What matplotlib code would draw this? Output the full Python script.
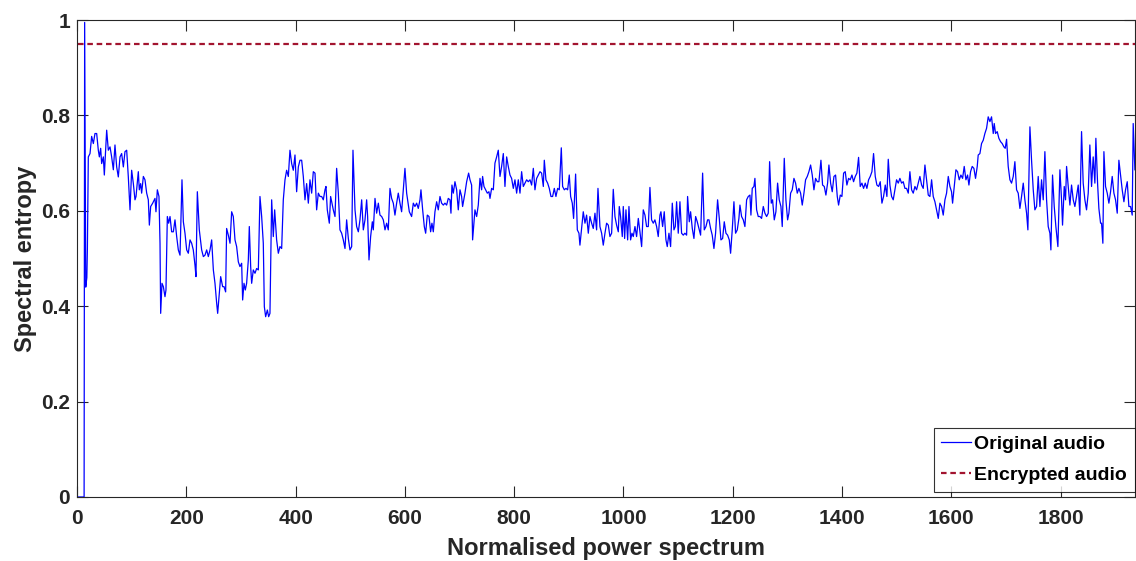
import matplotlib
matplotlib.use("Agg")
import matplotlib.pyplot as plt

# ---- data ----
orig_x = [1, 12, 13, 14, 16, 18, 19, 20.7, 23.8, 26.8, 29.9, 32.9, 36.0, 39.0, 40.9, 43.3, 45.1, 48.2, 50.0,
          54.3, 57.3, 60.4, 63.4, 66.5, 69.5, 72.6, 75.6, 78.7, 81.7, 84.8, 87.8, 90.9, 93.9,
          97.0, 100.0, 103.1, 106.1, 108.0, 112.2, 114.0, 116.5, 118.3, 121.4, 124.4, 127.5, 130.5, 132.4,
          134.8, 138.5, 142.7, 144.5, 147.0, 150.0, 151.9, 153.1, 155.5, 158.0, 161.0, 162.8, 165.3, 167.7,
          170.2, 173.2, 176.3, 179.3, 182.4, 185.4, 188.5, 192.1, 194.6, 197.6, 200.7, 203.7, 206.8, 209.8,
          212.8, 215.9, 217.7, 220.2, 223.8, 228.1, 231.2, 234.2, 237.3, 240.3, 243.4, 246.4, 249.5, 252.5,
          255.6, 257.4, 260.4, 262.9, 266.5, 269.0, 272.0, 273.8, 276.9, 280.0, 283.0, 286.0, 289.1, 292.1,
          295.2, 298.2, 301.3, 303.1, 305.6, 308.0, 310.4, 313.5, 315.3, 317.8, 319.6, 322.6, 325.7, 328.7,
          331.8, 334.8, 337.9, 340.9, 342.8, 345.2, 348.3, 350.7, 353.1, 356.2, 359.2, 361.7, 365.3, 368.4,
          371.4, 374.5, 377.5, 380.6, 383.6, 386.7, 389.7, 392.8, 395.8, 398.9, 401.9, 405.0, 408.0, 411.1,
          414.1, 417.2, 420.2, 423.3, 426.3, 429.4, 432.4, 435.5, 438.5, 441.6, 444.6, 447.7, 450.7, 453.8,
          455.6, 458.0, 461.7, 464.1, 469.0, 472.1, 475.1, 478.2, 481.2, 484.3, 487.3, 490.4, 493.4, 496.5,
          499.5, 502.6, 505.0, 508.7, 511.7, 514.8, 517.8, 520.9, 523.9, 527.0, 530.0, 531.8, 534.3, 537.3,
          540.4, 542.2, 545.3, 548.3, 551.4, 554.4, 557.5, 560.5, 563.6, 566.6, 569.6, 572.7, 575.7, 578.8,
          581.8, 584.9, 587.9, 591.0,
          594.0, 600.1, 603.2, 608.1, 612.3, 615.4, 618.4, 621.5, 624.5, 627.6, 629.4, 632.5, 635.5, 638.0,
          641.0, 644.1, 647.1, 649.5, 652.0, 655.0, 658.1, 661.1, 664.2, 667.2, 670.3, 673.3, 676.4, 679.4,
          682.5, 684.3, 686.1, 688.6, 691.6, 694.7, 697.7, 700.8, 703.8, 705.6, 709.9, 713.0, 716.6, 719.1,
          722.1, 723.9, 728.2, 731.3, 734.3, 737.4, 740.4, 742.2, 744.7, 747.7, 750.8, 753.8, 755.7, 758.7,
          761.8, 764.8, 767.9, 770.9, 774.0, 777.0, 780.1, 783.1, 786.2, 789.2, 792.3, 795.3, 798.4, 801.4,
          804.5, 807.5, 810.6, 813.6, 816.7, 819.7, 822.8, 825.8, 828.9, 831.9, 835.0, 838.0, 841.1, 844.1,
          847.2, 850.2, 853.3, 855.1, 858.1, 861.2, 864.2, 867.3, 870.3, 873.4, 876.4, 879.5, 882.5, 886.2,
          888.6, 891.7, 894.7, 897.8, 900.8, 903.3, 906.3, 908.7, 912.4, 915.5, 918.5, 920.3, 923.4, 926.4,
          929.5, 932.5, 935.6, 938.6, 941.7, 944.7, 947.8, 950.8, 953.3, 956.9, 960.0, 963.0, 966.1, 969.1,
          972.2, 975.2, 978.3, 981.3, 984.4, 987.4, 990.5, 992.3, 994.7, 997.8, 999.6, 1002.1, 1004.5,
          1007.6, 1010.0, 1013.0, 1015.5, 1017.9, 1021.0, 1024.0, 1027.1, 1030.1, 1033.2, 1036.2, 1039.3,
          1042.3, 1045.4, 1048.4,
          1051.4, 1054.5, 1057.5, 1060.6, 1063.6, 1066.7, 1068.5, 1071.6, 1074.6, 1077.7, 1080.1, 1083.2,
          1086.2, 1089.3, 1092.3, 1094.8, 1097.2, 1100.2, 1103.3, 1106.3, 1109.4, 1112.4, 1115.5, 1117.3,
          1120.4, 1122.8, 1125.9, 1128.9, 1132.0, 1135.0, 1138.1, 1141.1, 1144.8, 1147.8, 1150.9, 1153.9,
          1156.4, 1159.4, 1162.4, 1165.5, 1168.5, 1172.2, 1175.3, 1178.3, 1181.4, 1184.4, 1187.5, 1190.5,
          1193.6, 1196.0, 1199.0, 1202.1, 1205.1, 1208.2, 1211.2, 1213.1, 1216.1, 1219.2, 1222.2, 1225.3,
          1228.3, 1231.4, 1233.2, 1235.6, 1238.7, 1240.5, 1243.6, 1246.6, 1249.7, 1252.7, 1255.8, 1258.8,
          1261.9, 1264.9, 1267.4, 1270.4, 1272.8, 1275.9, 1278.9, 1282.0, 1285.0, 1288.1, 1290.5, 1294.2,
          1297.2, 1300.3, 1302.7, 1305.8, 1308.8, 1311.9, 1314.9, 1318.0, 1321.0, 1324.1, 1327.1, 1330.2,
          1333.2, 1336.3, 1339.3, 1342.4, 1345.4, 1348.5, 1351.5, 1354.6, 1357.6, 1361.3, 1364.3, 1367.4,
          1370.4, 1373.5, 1375.9, 1379.0, 1382.0, 1385.1, 1388.1, 1391.2, 1393.6, 1396.7, 1399.7, 1402.8,
          1405.8, 1408.8, 1411.9, 1414.9, 1418.0, 1421.0, 1424.1, 1427.1, 1430.2, 1433.2, 1436.3, 1439.3,
          1442.4, 1445.4, 1448.5, 1451.5, 1454.6, 1457.6, 1460.7, 1463.7, 1466.8, 1469.8, 1472.9, 1475.9,
          1479.0, 1482.0, 1484.5, 1487.5, 1490.6, 1493.6, 1496.7, 1499.7, 1502.8, 1505.8, 1508.9, 1511.9,
          1515.0, 1518.0, 1521.1, 1524.1, 1527.2, 1530.2, 1533.3, 1536.3, 1539.4, 1542.4, 1545.5, 1548.5,
          1551.6, 1554.6, 1557.7, 1560.7, 1563.8, 1566.8, 1569.9, 1572.9, 1576.0, 1579.0, 1582.1, 1585.1,
          1588.2, 1591.2, 1594.3, 1597.3,
          1600.3, 1602.2, 1605.2, 1608.3, 1611.3, 1614.4, 1617.4, 1620.5, 1623.5, 1626.6, 1629.6, 1632.1,
          1635.1, 1638.1, 1641.2, 1644.2, 1647.3, 1649.1, 1652.2, 1655.2, 1658.3, 1661.3, 1664.4, 1667.4,
          1670.5, 1673.5, 1676.6, 1678.4, 1680.8, 1683.9, 1686.9, 1690.0, 1693.0, 1696.1, 1698.5, 1701.0,
          1704.0, 1707.1, 1710.1, 1713.2, 1716.2, 1719.3, 1722.3, 1725.4, 1728.4, 1731.5, 1734.5, 1737.6,
          1740.0, 1743.7, 1746.7, 1749.8, 1752.8, 1755.9, 1758.9, 1762.0, 1765.0, 1768.1, 1771.1, 1774.2,
          1777.2, 1780.3, 1782.1, 1785.1, 1788.2, 1791.2, 1794.9, 1798.6, 1801.6, 1803.4, 1806.5, 1808.9,
          1810.8, 1813.8, 1816.9, 1819.9, 1823.0, 1826.0, 1829.0, 1832.1, 1835.1, 1838.2, 1841.2, 1844.3,
          1847.3, 1850.4, 1853.4, 1856.5, 1859.5, 1862.6, 1864.4, 1867.5, 1869.9, 1873.0, 1874.8, 1877.2,
          1879.1, 1882.1, 1885.2, 1888.2, 1891.3, 1894.3, 1897.4, 1900.4, 1903.5, 1906.5, 1909.6, 1912.6,
          1915.7, 1918.7, 1921.8, 1924.8, 1927.9, 1930.9, 1932.7, 1935.8]

orig_y = [0.0, 0.0, 0.0, 0.995, 0.44, 0.46, 0.52, 0.713, 0.720, 0.756, 0.741, 0.762, 0.762, 0.727, 0.713, 0.731, 0.699, 0.713, 0.675,
          0.769, 0.727, 0.734, 0.713, 0.686, 0.738, 0.692, 0.671, 0.713, 0.720, 0.692, 0.724, 0.727, 0.671,
          0.602, 0.685, 0.657, 0.623, 0.630, 0.682, 0.644, 0.657, 0.637, 0.672, 0.665, 0.637, 0.623, 0.570,
          0.609, 0.616, 0.626, 0.598, 0.644, 0.630, 0.532, 0.385, 0.448, 0.441, 0.420, 0.434, 0.588, 0.574,
          0.588, 0.556, 0.556, 0.581, 0.546, 0.518, 0.507, 0.665, 0.577, 0.553, 0.518, 0.511, 0.539, 0.532,
          0.518, 0.486, 0.462, 0.640, 0.560, 0.518, 0.504, 0.507, 0.518, 0.504, 0.518, 0.539, 0.476, 0.448,
          0.406, 0.385, 0.427, 0.462, 0.441, 0.441, 0.430, 0.563, 0.549, 0.532, 0.598, 0.588, 0.539, 0.525,
          0.493, 0.483, 0.490, 0.413, 0.448, 0.434, 0.448, 0.497, 0.567, 0.483, 0.448, 0.476, 0.469, 0.479,
          0.476, 0.630, 0.588, 0.532, 0.399, 0.378, 0.392, 0.378, 0.385, 0.623, 0.546, 0.602, 0.539, 0.511,
          0.525, 0.521, 0.623, 0.665, 0.685, 0.672, 0.727, 0.699, 0.685, 0.717, 0.640, 0.692, 0.706, 0.706,
          0.672, 0.623, 0.657, 0.616, 0.665, 0.637, 0.682, 0.679, 0.602, 0.637, 0.630, 0.630, 0.623, 0.644,
          0.651, 0.602, 0.574, 0.630, 0.602, 0.588, 0.689, 0.637, 0.560, 0.553, 0.539, 0.521, 0.581, 0.542,
          0.518, 0.525, 0.727, 0.602, 0.567, 0.556, 0.581, 0.623, 0.560, 0.581, 0.623, 0.588, 0.497, 0.546,
          0.577, 0.560, 0.626, 0.595, 0.616, 0.591, 0.588, 0.581, 0.560, 0.574, 0.560, 0.647, 0.626, 0.616,
          0.591, 0.616, 0.637, 0.616,
          0.598, 0.689, 0.637, 0.598, 0.588, 0.616, 0.609, 0.616, 0.605, 0.623, 0.644, 0.602, 0.567, 0.553,
          0.591, 0.588, 0.556, 0.574, 0.556, 0.598, 0.619, 0.602, 0.630, 0.616, 0.612, 0.616, 0.612, 0.626,
          0.623, 0.595, 0.654, 0.637, 0.661, 0.644, 0.602, 0.644, 0.630, 0.609, 0.637, 0.661, 0.679, 0.665,
          0.654, 0.539, 0.602, 0.588, 0.612, 0.668, 0.644, 0.672, 0.651, 0.644, 0.637, 0.640, 0.626, 0.647,
          0.644, 0.700, 0.713, 0.727, 0.672, 0.693, 0.720, 0.651, 0.713, 0.693, 0.675, 0.668, 0.647, 0.665,
          0.637, 0.665, 0.637, 0.682, 0.651, 0.658, 0.665, 0.661, 0.665, 0.654, 0.689, 0.644, 0.668, 0.675,
          0.682, 0.679, 0.651, 0.706, 0.665, 0.658, 0.647, 0.630, 0.630, 0.647, 0.630, 0.647, 0.644, 0.732,
          0.651, 0.644, 0.647, 0.644, 0.675, 0.630, 0.616, 0.584, 0.677, 0.560, 0.553, 0.528, 0.563, 0.598,
          0.574, 0.591, 0.553, 0.588, 0.574, 0.563, 0.595, 0.560, 0.647, 0.567, 0.553, 0.528, 0.553, 0.574,
          0.570, 0.546, 0.553, 0.645, 0.588, 0.570, 0.556, 0.609, 0.588, 0.546, 0.609, 0.542, 0.602,
          0.539, 0.609, 0.539, 0.553, 0.546, 0.567, 0.546, 0.584, 0.556, 0.525, 0.602, 0.591,
          0.567, 0.567, 0.649,
          0.581, 0.574, 0.581, 0.567, 0.546, 0.591, 0.598, 0.567, 0.598, 0.539, 0.525, 0.553,
          0.525, 0.616, 0.560, 0.567, 0.619, 0.553, 0.619, 0.553, 0.549, 0.553, 0.549, 0.630,
          0.577, 0.598, 0.563, 0.542, 0.588, 0.577, 0.563, 0.549, 0.679, 0.560, 0.567, 0.581,
          0.581, 0.563, 0.549, 0.521, 0.553, 0.623, 0.584, 0.539, 0.542, 0.577, 0.553, 0.549,
          0.539, 0.511, 0.560, 0.619, 0.553, 0.560, 0.584, 0.612, 0.588, 0.581, 0.567, 0.623,
          0.630, 0.633, 0.591, 0.647, 0.651, 0.668, 0.602, 0.588, 0.588, 0.584, 0.609, 0.595,
          0.588, 0.595, 0.703, 0.616, 0.623, 0.581, 0.598, 0.658, 0.623, 0.609, 0.567, 0.710,
          0.623, 0.581, 0.595, 0.637, 0.644, 0.668, 0.658, 0.637, 0.647, 0.637, 0.612, 0.637,
          0.665, 0.672, 0.682, 0.696, 0.675, 0.644, 0.668, 0.661, 0.661, 0.706, 0.654, 0.651,
          0.633, 0.658, 0.696, 0.658, 0.640, 0.672, 0.675, 0.630, 0.612, 0.633, 0.630, 0.679,
          0.682, 0.654, 0.668, 0.665, 0.675, 0.661, 0.672, 0.679, 0.712, 0.651, 0.658, 0.647,
          0.658, 0.647, 0.665, 0.672, 0.682, 0.720, 0.672, 0.654, 0.651, 0.661, 0.616, 0.630,
          0.654, 0.630, 0.708, 0.654, 0.630, 0.623, 0.644, 0.665, 0.658, 0.668, 0.658, 0.661,
          0.647, 0.647, 0.637, 0.682, 0.644, 0.637, 0.651, 0.644, 0.658, 0.672, 0.654, 0.647,
          0.696, 0.665, 0.633, 0.630, 0.665, 0.630, 0.619, 0.602, 0.584, 0.616, 0.609, 0.591,
          0.623, 0.637, 0.672, 0.651,
          0.640, 0.616, 0.651, 0.686, 0.682, 0.665, 0.675, 0.668, 0.693, 0.665, 0.675, 0.654,
          0.682, 0.693, 0.689, 0.668, 0.693, 0.717, 0.720, 0.741, 0.748, 0.762, 0.773, 0.797,
          0.787, 0.797, 0.762, 0.783, 0.762, 0.766, 0.752, 0.745, 0.741, 0.734, 0.731, 0.750,
          0.693, 0.665, 0.658, 0.672, 0.703, 0.644, 0.637, 0.605, 0.630, 0.658, 0.623, 0.595,
          0.560, 0.776, 0.706, 0.644, 0.602, 0.609, 0.672, 0.609, 0.665, 0.623, 0.724, 0.623,
          0.567, 0.553, 0.518, 0.675, 0.609, 0.567, 0.525, 0.686, 0.623, 0.570, 0.651, 0.623,
          0.693, 0.651, 0.612, 0.654, 0.623, 0.609, 0.630, 0.654, 0.591, 0.766, 0.658, 0.623,
          0.602, 0.637, 0.738, 0.651, 0.713, 0.658, 0.752, 0.658, 0.605, 0.574, 0.574, 0.532,
          0.724, 0.651, 0.637, 0.616, 0.640, 0.672, 0.637, 0.623, 0.595, 0.706, 0.675, 0.644,
          0.619, 0.644, 0.661, 0.609, 0.609, 0.591, 0.783, 0.686]

enc_x = [1, 1936]
enc_y = [0.95, 0.95]

series_labels = ["Original audio", "Encrypted audio"]
x_label = "Normalised power spectrum"
y_label = "Spectral entropy"
x_ticks = [0, 200, 400, 600, 800, 1000, 1200, 1400, 1600, 1800]
y_ticks = [0, 0.2, 0.4, 0.6, 0.8, 1]
y_tick_labels = ["0", "0.2", "0.4", "0.6", "0.8", "1"]

# ---- style ----
plt.rcParams['font.family'] = ['Liberation Sans', 'DejaVu Sans']
plt.rcParams['font.weight'] = 'bold'
dark = '#262626'

fig = plt.figure(figsize=(11.36, 5.61), dpi=100)
ax = fig.add_axes([77 / 1136, 1 - 497 / 561, 1058 / 1136, 477 / 561])

ax.plot(orig_x, orig_y, color='#0000FF', lw=0.9, label=series_labels[0])
ax.plot(enc_x, enc_y, color='#A2142F', lw=1.6, dashes=(2.5, 1.7), label=series_labels[1])

ax.set_xlim(0, 1936)
ax.set_ylim(0, 1)
ax.set_xticks(x_ticks)
ax.set_xticklabels([str(t) for t in x_ticks])
ax.set_yticks(y_ticks)
ax.set_yticklabels(y_tick_labels)

ax.tick_params(direction='in', length=8, width=0.8, colors=dark, labelsize=15,
               top=True, right=True)
ax.tick_params(axis='x', pad=9)
ax.tick_params(axis='y', pad=5)
for lab in ax.get_xticklabels() + ax.get_yticklabels():
    lab.set_fontweight('bold')
for s in ax.spines.values():
    s.set_color(dark)
    s.set_linewidth(0.8)

ax.set_xlabel(x_label, fontsize=17, fontweight='bold', color=dark, labelpad=6)
ax.set_ylabel(y_label, fontsize=17, fontweight='bold', color=dark, labelpad=3)

leg = ax.legend(loc='lower right', bbox_to_anchor=(1.0, 0.0105), borderaxespad=0,
                fontsize=14, frameon=True, fancybox=False, handlelength=1.5,
                handletextpad=0.2, borderpad=0.4, labelspacing=0.7)
leg.get_frame().set_edgecolor('black')
leg.get_frame().set_linewidth(0.8)
for t in leg.get_texts():
    t.set_fontweight('bold')
    t.set_color('black')

fig.savefig('out.png', dpi=100)
